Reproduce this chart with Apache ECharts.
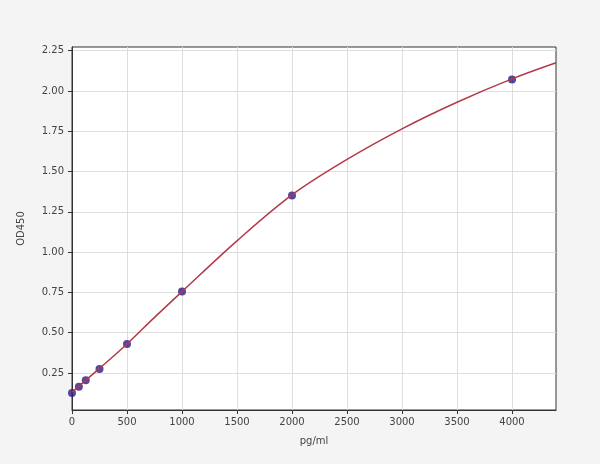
<!DOCTYPE html>
<html>
<head>
<meta charset="utf-8">
<script src="https://cdn.jsdelivr.net/npm/echarts@6/dist/echarts.min.js"></script>
<style>
  html, body { margin: 0; padding: 0; background: #f4f4f4; }
  #chart { width: 600px; height: 464px; }
</style>
</head>
<body>
<div id="chart"></div>
<script>
// standard points (concentration, OD)
const concentrations = [0, 62.5, 125, 250, 500, 1000, 2000, 4000]
const odValues = [0.125, 0.165, 0.205, 0.275, 0.43, 0.755, 1.352, 2.072]

// fitted curve
const curveX = [0, 62.5, 125, 250, 500, 750, 1000, 1500, 2000, 2500, 3000, 3500, 4000, 4400]
const curveY = [0.13, 0.168, 0.205, 0.278, 0.43, 0.595, 0.755, 1.07, 1.355, 1.575, 1.765, 1.93, 2.075, 2.175]

const xTicks = [0, 500, 1000, 1500, 2000, 2500, 3000, 3500, 4000]
const yTicks = [0.25, 0.5, 0.75, 1.0, 1.25, 1.5, 1.75, 2.0, 2.25]

const textColor = '#444'
const font = 'DejaVu Sans'

const chart = echarts.init(document.getElementById('chart'))

const options = {
  animation: false,
  backgroundColor: '#f4f4f4',
  grid: {
    left: 72,
    right: 44,
    top: 47,
    bottom: 54,
    show: true,
    backgroundColor: '#ffffff',
    borderColor: '#333',
    borderWidth: 1,
  },
  xAxis: {
    type: 'value',
    min: 0,
    max: 4400,
    name: 'pg/ml',
    nameLocation: 'middle',
    nameGap: 26,
    nameTextStyle: { color: textColor, fontSize: 10, fontFamily: font },
    axisLine: { show: true, lineStyle: { color: '#333' } },
    axisTick: { show: true, inside: false, length: 4, customValues: xTicks, lineStyle: { color: '#333' } },
    axisLabel: {
      customValues: xTicks,
      color: textColor,
      fontSize: 10,
      fontFamily: font,
      margin: 7,
      formatter: (v) => String(v),
    },
    splitLine: { show: true, lineStyle: { color: '#dedede' } },
  },
  yAxis: {
    type: 'value',
    min: 0.02,
    max: 2.273,
    name: 'OD450',
    nameLocation: 'middle',
    nameGap: 46,
    nameRotate: 90,
    nameTextStyle: { color: textColor, fontSize: 10, fontFamily: font },
    axisLine: { show: true, lineStyle: { color: '#333' } },
    axisTick: { show: true, inside: false, length: 4, customValues: yTicks, lineStyle: { color: '#333' } },
    axisLabel: {
      customValues: yTicks,
      color: textColor,
      fontSize: 10,
      fontFamily: font,
      margin: 8,
      formatter: (v) => v.toFixed(2),
    },
    splitLine: { show: true, lineStyle: { color: '#dedede' } },
  },
  series: [
    {
      name: 'points',
      type: 'scatter',
      data: concentrations.map((c, i) => [c, odValues[i]]),
      symbolSize: 8,
      itemStyle: { color: '#2c1a86' },
      z: 2,
    },
    {
      name: 'fit',
      type: 'line',
      data: curveX.map((c, i) => [c, curveY[i]]),
      smooth: 0.35,
      showSymbol: false,
      lineStyle: { color: '#b23a48', width: 1.5 },
      z: 3,
    },
  ],
}

chart.setOption(options)
</script>
</body>
</html>
